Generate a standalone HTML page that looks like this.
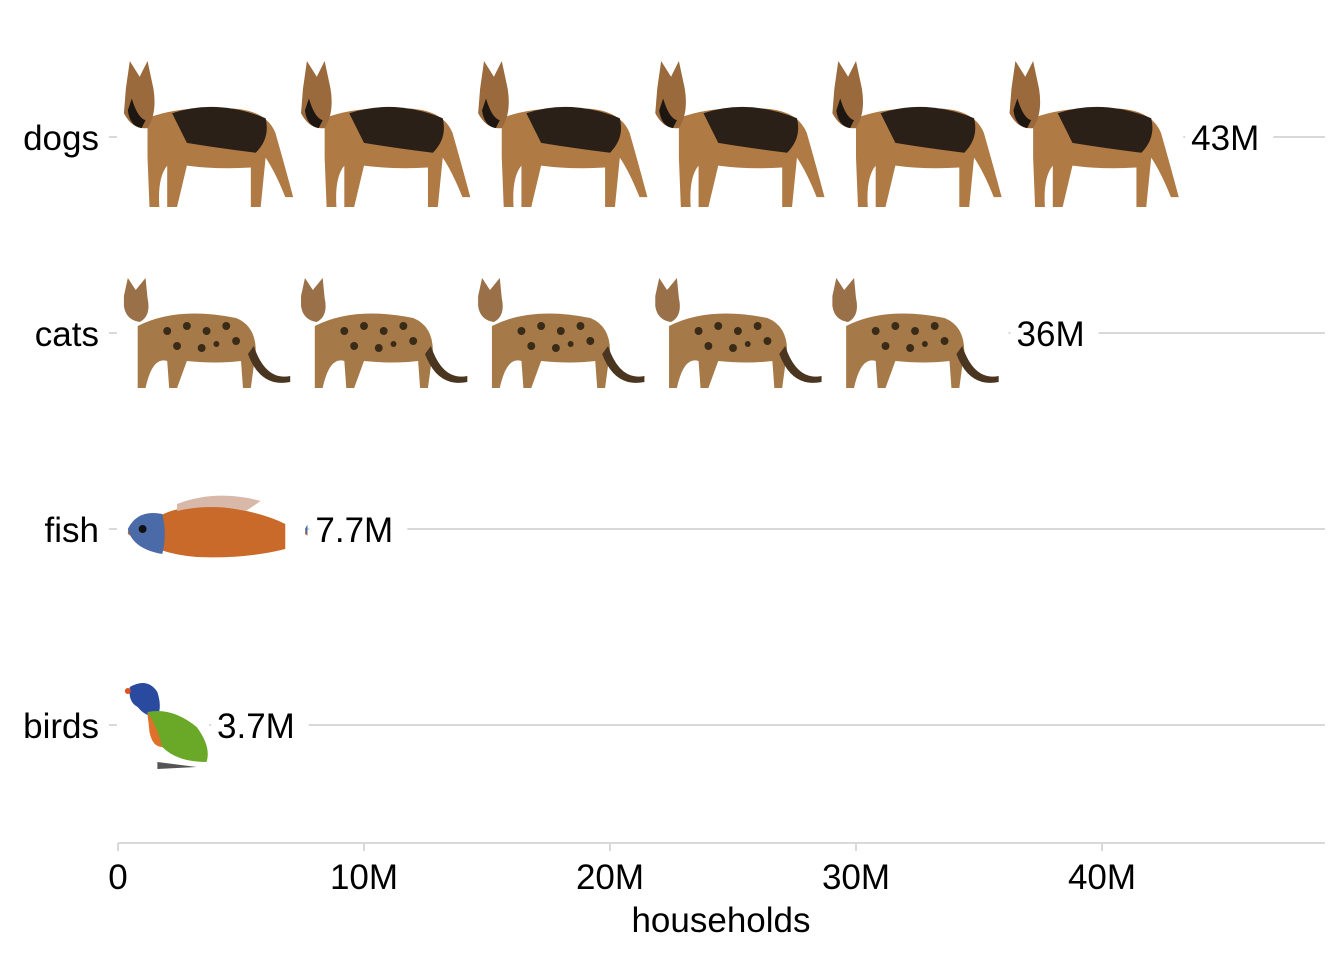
<!DOCTYPE html>
<html><head><meta charset="utf-8"><style>
html,body{margin:0;padding:0;background:#fff;}
svg text{font-family:"Liberation Sans",Arial,sans-serif;fill:#000;}
</style></head><body>
<svg id="chart" width="1344" height="960" viewBox="0 0 1344 960" xmlns="http://www.w3.org/2000/svg">
<defs>
<g id="dog">
 <path d="M30 60 Q60 48 110 50 Q150 50 160 75 Q170 110 178 140 L170 140 Q160 115 150 100 L145 150 L135 150 L135 110 Q100 112 70 108 L60 150 L50 150 L50 108 Q40 120 42 150 L32 150 L30 100 Z" fill="#b07a45"/>
 <path d="M55 55 Q100 40 150 60 Q155 80 140 95 Q100 90 70 85 Z" fill="#2a2018"/>
 <path d="M8 30 L12 2 L22 18 L30 2 L36 30 Q40 55 30 70 Q15 72 6 55 Z" fill="#9a6a3c"/>
 <path d="M14 40 Q20 60 28 62 L24 70 Q12 68 10 52 Z" fill="#1e1610"/>
</g>
<g id="cat">
 <path d="M20 50 Q60 30 120 42 Q140 50 140 75 L135 112 L127 112 L125 85 Q100 88 70 85 L60 112 L52 112 L50 85 Q35 80 28 112 L20 112 Z" fill="#a57a48"/>
 <g fill="#3a2a18"><circle cx="50" cy="55" r="4"/><circle cx="70" cy="50" r="4"/><circle cx="90" cy="55" r="4"/><circle cx="110" cy="50" r="4"/><circle cx="60" cy="70" r="4"/><circle cx="85" cy="72" r="4"/><circle cx="120" cy="65" r="4"/><circle cx="100" cy="68" r="3"/></g>
 <path d="M138 70 Q150 105 175 100 L175 106 Q145 112 132 78 Z" fill="#4a3520"/>
 <path d="M6 20 L10 2 L18 14 L28 2 L30 22 Q34 40 22 46 Q8 44 6 30 Z" fill="#9a7048"/>
</g>
<g id="fish">
 <path d="M30 35 Q60 10 120 20 Q150 25 170 35 L170 60 Q130 70 80 68 Q40 65 10 45 Q10 30 30 35 Z" fill="#c96a2a"/>
 <path d="M10 40 Q20 20 45 25 Q50 45 45 65 Q15 60 10 40 Z" fill="#4a6aa8"/>
 <path d="M60 15 Q100 0 145 12 L130 22 Q95 14 60 22 Z" fill="#d8b8a8"/>
 <circle cx="25" cy="40" r="4" fill="#111"/>
</g>
<g id="bird">
 <path d="M12 10 Q30 0 40 15 Q45 30 40 40 Q28 40 20 30 Q10 25 12 10 Z" fill="#2a4aa0"/>
 <path d="M30 35 Q55 30 80 50 Q95 70 90 85 Q60 85 45 70 Q30 55 30 35 Z" fill="#6aa828"/>
 <path d="M30 35 Q40 50 45 70 Q35 70 32 55 Z" fill="#e0702a"/>
 <path d="M40 85 L80 90 L40 92 Z" fill="#555"/>
 <circle cx="10" cy="14" r="3" fill="#e05020"/>
</g>
</defs>
<g id="grid"></g>
<g id="marks"></g>
<g id="axis"></g>
</svg>
<script>
const categories = ["dogs","cats","fish","birds"];
const values = [43.3, 36.2, 7.7, 3.7];
const valueLabels = ["43M","36M","7.7M","3.7M"];
const iconNames = ["dog","cat","fish","bird"];
const xTicks = [0,10,20,30,40];
const xTickLabels = ["0","10M","20M","30M","40M"];
const unitPerIcon = 7.2;

const NS="http://www.w3.org/2000/svg";
const svg=document.getElementById('chart');
const X0=118, PXM=24.6, XR=1325;
const x=v=>X0+v*PXM;
const y=i=>137+i*196;
const iconBox={dog:{h:150,dy:-78,vh:152},cat:{h:115,dy:-57,vh:115},fish:{h:70,dy:-40,vh:70},bird:{h:95,dy:-48,vh:95}};
function mk(tag,attrs,parent){const e=document.createElementNS(NS,tag);for(const k in attrs)e.setAttribute(k,attrs[k]);parent.appendChild(e);return e;}
const grid=document.getElementById('grid'),marks=document.getElementById('marks'),axis=document.getElementById('axis');
const defs=svg.querySelector('defs');

categories.forEach((c,i)=>{
  const cy=y(i);
  const gl=mk('line',{x1:x(values[i]),x2:XR,y1:cy,y2:cy,stroke:'#d9d9d9','stroke-width':2},grid);
  
  
  const tk=mk('line',{x1:109,x2:117,y1:cy,y2:cy,stroke:'#d9d9d9','stroke-width':2},axis);
  
  
  const lab=mk('text',{x:99,y:cy+13,'text-anchor':'end','font-size':35},axis);
  lab.textContent=c;
  
  
  const cp=mk('clipPath',{id:'clip'+i},defs);
  mk('rect',{x:X0,y:cy-100,width:x(values[i])-X0,height:200},cp);
  const g=mk('g',{'clip-path':'url(#clip'+i+')'},marks);
  
  
  const ib=iconBox[iconNames[i]];
  const w=unitPerIcon*PXM;
  const n=Math.ceil(values[i]/unitPerIcon);
  for(let k=0;k<n;k++){
    const sx=w/180, sy=ib.h/ib.vh;
    const u=mk('use',{href:'#'+iconNames[i],transform:`translate(${X0+k*w},${cy+ib.dy}) scale(${sx},${sy})`},g);
    
    
  }
  const ex=x(values[i]);
  const bg=mk('rect',{x:ex+2,y:cy-20,width:80,height:40,fill:'#fff'},marks);
  const vl=mk('text',{x:ex+8,y:cy+13,'font-size':35},marks);
  vl.textContent=valueLabels[i];
  
  
  let tw=valueLabels[i].length*20;
  try{tw=vl.getBBox().width;}catch(e){}
  bg.setAttribute('width',tw+20);
});
const al=mk('line',{x1:X0,x2:XR,y1:843,y2:843,stroke:'#d9d9d9','stroke-width':2},axis);


xTicks.forEach((t,i)=>{
  const tl=mk('line',{x1:x(t),x2:x(t),y1:843,y2:851,stroke:'#d9d9d9','stroke-width':2},axis);
  
  
  const tx=mk('text',{x:x(t),y:889,'text-anchor':'middle','font-size':35},axis);
  tx.textContent=xTickLabels[i];
  
  
});
const xt=mk('text',{x:721,y:932,'text-anchor':'middle','font-size':35},axis);
xt.textContent='households';


</script>
</body></html>
